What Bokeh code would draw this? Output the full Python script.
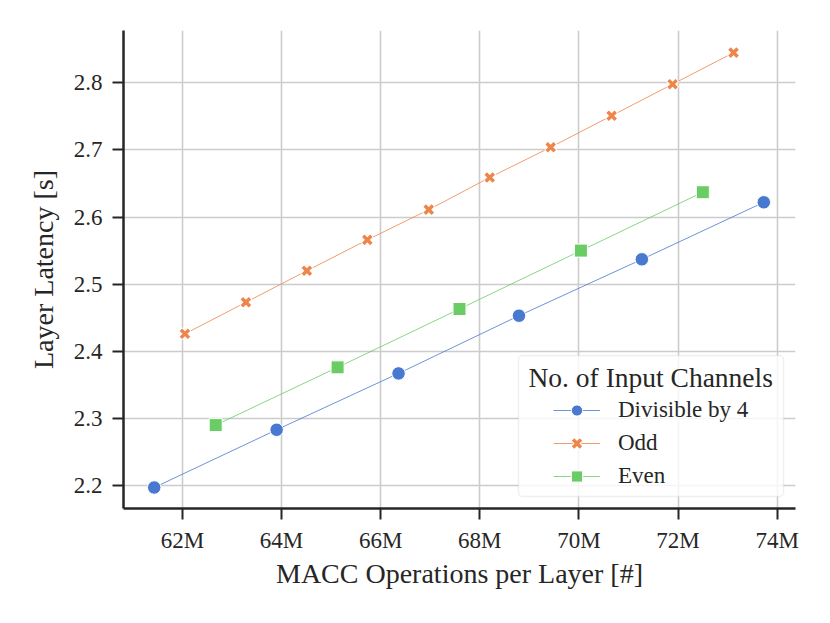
from bokeh.plotting import figure
from bokeh.models import Range1d, FixedTicker, Legend, LegendItem, BoxAnnotation, Label
from bokeh.embed import file_html
from bokeh.resources import INLINE

# Data (MACC operations in millions, latency in seconds)
div4_x = [61.43, 63.90, 66.36, 68.79, 71.27, 73.73]
div4_y = [2.197, 2.283, 2.367, 2.453, 2.537, 2.622]
odd_x = [62.05, 63.28, 64.51, 65.73, 66.97, 68.20, 69.43, 70.66, 71.89, 73.12]
odd_y = [2.426, 2.473, 2.520, 2.566, 2.611, 2.659, 2.704, 2.751, 2.798, 2.845]
even_x = [62.67, 65.13, 67.59, 70.04, 72.50]
even_y = [2.290, 2.376, 2.463, 2.550, 2.637]

x_ticks = [62, 64, 66, 68, 70, 72, 74]
x_tick_labels = ["62M", "64M", "66M", "68M", "70M", "72M", "74M"]
y_ticks = [2.2, 2.3, 2.4, 2.5, 2.6, 2.7, 2.8]

BLUE = "#4878d0"
ORANGE = "#ee854a"
GREEN = "#6acc64"
TEXT = "#262626"
FONT = "Liberation Serif"

p = figure(frame_width=672, frame_height=478,
           x_range=Range1d(60.81, 74.37), y_range=Range1d(2.1657, 2.878),
           output_backend="svg", toolbar_location=None,
           min_border_left=123, min_border_right=19,
           min_border_top=30, min_border_bottom=99)

p.outline_line_color = None
p.background_fill_color = "white"
p.border_fill_color = "white"

p.grid.grid_line_color = "#cccccc"
p.grid.grid_line_width = 1.6

p.xaxis.ticker = FixedTicker(ticks=x_ticks)
p.xaxis.major_label_overrides = {t: l for t, l in zip(x_ticks, x_tick_labels)}
p.yaxis.ticker = FixedTicker(ticks=y_ticks)

for ax in (p.xaxis[0], p.yaxis[0]):
    ax.axis_line_color = TEXT
    ax.axis_line_width = 2.5
    ax.major_tick_line_color = TEXT
    ax.major_tick_line_width = 2
    ax.major_tick_out = 11
    ax.major_tick_in = 0
    ax.minor_tick_line_color = None
    ax.major_label_text_font = FONT
    ax.major_label_text_font_size = "23px"
    ax.major_label_text_color = TEXT
    ax.axis_label_text_font = FONT
    ax.axis_label_text_font_size = "28px"
    ax.axis_label_text_font_style = "normal"
    ax.axis_label_text_color = TEXT

p.xaxis.axis_label = "MACC Operations per Layer [#]"
p.yaxis.axis_label = "Layer Latency [s]"
p.xaxis.major_label_standoff = 8
p.yaxis.major_label_standoff = 10
p.xaxis.axis_label_standoff = 2
p.yaxis.axis_label_standoff = 12

# Lines
l1 = p.line(div4_x, div4_y, line_color=BLUE, line_width=1, line_alpha=0.8)
l2 = p.line(odd_x, odd_y, line_color=ORANGE, line_width=1, line_alpha=0.8)
l3 = p.line(even_x, even_y, line_color=GREEN, line_width=1, line_alpha=0.8)

# Markers
m1 = p.scatter(div4_x, div4_y, marker="circle", size=13.5, fill_color=BLUE,
               line_color="white", line_width=1)
m2w = p.scatter(odd_x, odd_y, marker="x", size=13, line_color="white", line_width=5.5)
m2 = p.scatter(odd_x, odd_y, marker="x", size=11.5, line_color=ORANGE, line_width=3.5)
m3 = p.scatter(even_x, even_y, marker="square", size=13, fill_color=GREEN,
               line_color="white", line_width=1)

# Legend frame and title
box = BoxAnnotation(left=395, right=660, bottom=12, top=153,
                    left_units="screen", right_units="screen",
                    bottom_units="screen", top_units="screen",
                    fill_color="white", fill_alpha=0.8,
                    line_color="#cccccc", line_width=1.5, border_radius=4)
p.add_layout(box)

title = Label(x=405, y=131.5, x_units="screen", y_units="screen",
              text="No. of Input Channels", text_align="left",
              text_baseline="alphabetic", text_font=FONT,
              text_font_size="27.5px", text_color=TEXT)
p.add_layout(title)

legend = Legend(items=[
    LegendItem(label="Divisible by 4", renderers=[l1, m1]),
    LegendItem(label="Odd", renderers=[l2, m2w, m2]),
    LegendItem(label="Even", renderers=[l3, m3]),
], location=(430, 18))
legend.label_text_font = FONT
legend.label_text_font_size = "23px"
legend.label_text_color = TEXT
legend.label_standoff = 18
legend.glyph_width = 47
legend.glyph_height = 28
legend.label_height = 28
legend.spacing = 5
legend.padding = 0
legend.margin = 0
legend.border_line_color = None
legend.background_fill_alpha = 0
p.add_layout(legend)

open("out.html", "w").write(file_html(p, INLINE))
